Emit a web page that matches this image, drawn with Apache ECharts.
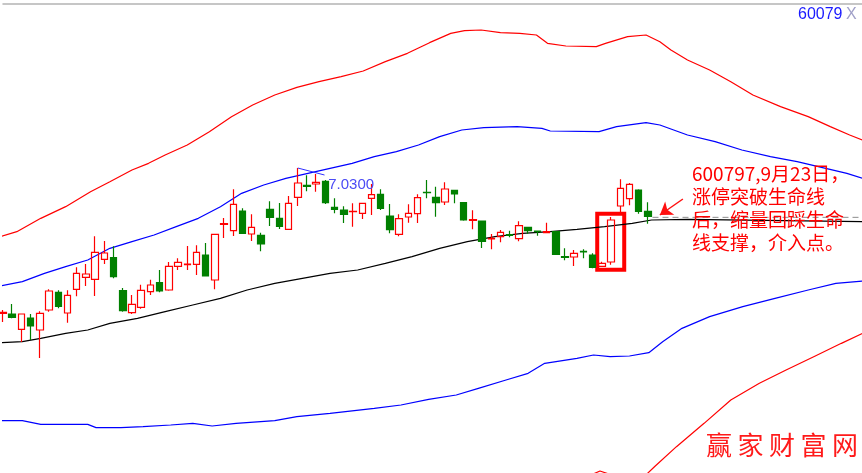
<!DOCTYPE html>
<html><head><meta charset="utf-8">
<script src="https://cdn.jsdelivr.net/npm/echarts@6/dist/echarts.min.js"></script>
<style>html,body{margin:0;padding:0;background:#fff}#c{width:862px;height:473px}</style>
</head><body><div id="c"></div>
<script>
// trading days (first 71 carry candles, the rest are the projected band area)
const categories = ['06-21','06-22','06-23','06-24','06-27','06-28','06-29','06-30','07-01','07-04','07-05','07-06','07-07','07-08','07-11','07-12','07-13','07-14','07-15','07-18','07-19','07-20','07-21','07-22','07-25','07-26','07-27','07-28','07-29','08-01','08-02','08-03','08-04','08-05','08-08','08-09','08-10','08-11','08-12','08-15','08-16','08-17','08-18','08-19','08-22','08-23','08-24','08-25','08-26','08-29','08-30','08-31','09-01','09-02','09-05','09-06','09-07','09-08','09-09','09-12','09-13','09-14','09-19','09-20','09-21','09-22','09-23','09-26','09-27','09-28','09-29','09-30','10-10','10-11','10-12','10-13','10-14','10-17','10-18','10-19','10-20','10-21','10-24','10-25','10-26','10-27','10-28','10-31','11-01','11-02','11-03','11-04','11-07','11-08','11-09'];

const opens  = [12.67,12.65,12.19,12.53,12.17,12.77,13.30,12.68,13.39,13.75,13.69,14.29,14.34,13.35,12.69,12.85,13.32,13.59,13.37,14.08,14.13,14.14,14.42,13.67,15.34,15.15,15.74,15.05,15.01,15.79,15.52,15.19,16.15,16.51,16.55,16.63,15.85,15.77,15.72,15.67,16.12,16.24,15.59,15.04,15.56,15.66,16.30,16.15,16.01,16.36,15.99,15.46,15.44,14.90,14.97,15.03,14.91,15.25,15.14,15.09,15.12,14.37,14.36,14.53,14.42,14.08,14.21,15.89,16.11,16.37,15.73];
const closes = [12.70,12.55,12.65,12.29,12.67,13.34,12.88,13.21,13.87,13.85,14.50,14.48,13.77,12.75,12.94,13.36,13.52,13.34,14.08,14.20,14.15,14.50,13.79,15.04,15.36,15.94,15.07,15.25,14.75,15.55,15.28,15.97,16.58,16.48,16.60,15.99,15.79,15.64,15.73,15.97,16.23,15.82,15.18,15.51,15.67,16.14,16.29,15.99,16.40,16.25,15.47,15.48,14.83,14.92,15.10,15.01,15.30,15.15,15.12,15.12,14.44,14.35,14.47,14.51,14.05,14.17,15.47,16.42,16.54,15.73,15.58];
const lows   = [12.41,12.52,11.81,11.87,11.33,12.72,12.82,12.39,13.18,13.49,13.19,14.15,13.72,12.72,12.65,12.81,13.22,13.30,13.35,13.97,13.97,13.82,13.78,13.39,14.93,14.99,15.06,14.84,14.53,15.29,15.20,15.18,15.89,16.33,16.32,15.95,15.67,15.38,15.27,15.50,15.62,15.77,15.07,14.98,15.39,15.38,16.12,15.57,15.92,15.97,15.45,15.19,14.63,14.59,14.80,14.95,14.83,15.06,15.00,15.07,14.42,14.26,14.09,14.32,14.02,14.07,14.13,15.70,15.91,15.66,15.36];
const highs  = [12.77,12.95,12.66,12.65,12.73,13.39,13.36,13.36,14.05,14.15,14.98,14.84,14.68,13.43,13.22,13.53,13.68,13.97,14.21,14.32,14.69,14.71,14.78,15.05,15.53,16.39,15.82,15.64,15.09,16.03,15.98,16.19,17.03,16.81,16.85,16.67,16.12,15.88,15.97,15.99,16.55,16.39,15.95,15.64,15.94,16.24,16.67,16.47,16.60,16.37,16.01,15.76,15.45,15.05,15.17,15.15,15.43,15.26,15.15,15.39,15.13,14.62,14.57,14.59,14.47,14.22,15.56,16.69,16.58,16.39,16.00];

// band lines: [day index, price]
const upperRed = [[-0.3,14.97],[1.5,15.12],[4.1,15.52],[6.8,15.87],[9.5,16.32],[11.6,16.62],[14.0,16.97],[15.8,17.17],[17.6,17.42],[20.0,17.72],[22.4,18.12],[24.8,18.57],[27.1,18.92],[29.5,19.22],[31.9,19.45],[34.3,19.62],[36.7,19.77],[39.1,19.94],[41.5,20.22],[43.9,20.47],[46.3,20.79],[48.6,21.07],[50.1,21.15],[51.9,21.17],[54.0,21.09],[56.1,21.07],[57.9,21.02],[59.1,20.77],[61.1,20.69],[64.4,20.67],[65.4,20.77],[67.8,20.97],[69.8,21.02],[71.3,20.82],[72.5,20.57],[74.3,20.27],[76.7,19.97],[79.0,19.62],[81.4,19.22],[84.4,18.87],[87.4,18.57],[89.8,18.27],[91.9,18.02],[93.3,17.87]];
const upperBlue = [[-0.3,13.49],[2.1,13.62],[4.5,13.87],[6.8,14.07],[9.2,14.27],[11.6,14.62],[14.0,14.82],[16.4,15.02],[18.8,15.27],[21.2,15.52],[23.6,15.87],[25.9,16.27],[28.3,16.52],[30.7,16.72],[33.1,16.87],[35.5,17.02],[37.9,17.17],[40.3,17.37],[42.7,17.52],[45.1,17.72],[47.4,17.97],[49.8,18.17],[52.2,18.24],[55.8,18.27],[58.5,18.22],[59.4,18.14],[64.7,18.12],[66.6,18.27],[69.8,18.39],[71.3,18.32],[74.3,18.02],[77.3,17.82],[80.2,17.57],[83.3,17.37],[86.2,17.22],[89.3,17.02],[91.6,16.87],[93.3,16.72]];
const middleLine = [[-0.3,11.79],[2.1,11.82],[4.1,11.92],[6.8,12.07],[9.2,12.17],[11.6,12.37],[14.6,12.52],[17.6,12.72],[20.6,12.92],[23.6,13.12],[26.5,13.37],[29.5,13.57],[32.5,13.72],[35.5,13.87],[38.5,13.97],[41.5,14.17],[44.4,14.37],[47.4,14.62],[50.4,14.82],[53.4,14.97],[56.4,15.07],[59.4,15.12],[62.3,15.19],[65.3,15.27],[68.3,15.37],[70.4,15.47],[74.3,15.49],[93.3,15.42]];
const lowerBlue = [[-0.3,9.45],[2.1,9.45],[4.1,9.34],[9.2,9.34],[10.1,9.24],[12.8,9.24],[15.2,9.27],[18.2,9.32],[20.6,9.37],[22.7,9.29],[25.3,9.37],[29.5,9.45],[31.9,9.57],[35.5,9.67],[40.3,9.82],[43.2,9.92],[46.2,10.09],[49.2,10.22],[51.6,10.42],[54.6,10.67],[57.0,10.87],[58.8,11.17],[62.3,11.32],[64.1,11.42],[65.9,11.37],[68.0,11.39],[70.1,11.49],[71.6,11.82],[73.7,12.22],[76.7,12.57],[80.3,12.87],[83.8,13.12],[87.4,13.37],[90.4,13.57],[93.3,13.64]];
const lowerRed = [[62.1,7.61],[64.8,7.94],[66.4,7.79],[69.2,7.67],[70.8,8.09],[73.1,8.67],[76.1,9.37],[79.0,10.07],[82.1,10.57],[85.0,10.97],[88.0,11.37],[91.0,11.77],[93.3,12.07]];
const lastPriceLine = [[70.5,15.55],[93.5,15.55]];

const stockCode = '600797';
const noteText = '600797,9月23日，\n涨停突破生命线\n后，缩量回踩生命\n线支撑，介入点。';
const maxLabel = '7.0300';
const watermark = '赢家财富网';

const candleData = opens.map((o, i) => [o, closes[i], lows[i], highs[i]]);

function band(data, color) {
  return { type: 'line', xAxisIndex: 1, yAxisIndex: 0, data: data, showSymbol: false, symbol: 'none',
    clip: false, silent: true, lineStyle: { color: color, width: 1.2 }, z: 1 };
}

const chart = echarts.init(document.getElementById('c'), null, { renderer: 'canvas' });
const wmGraphics = watermark.split('').map((ch, i) => ({
  type: 'text', left: 706 + i * 31.5, top: 432,
  style: { text: ch, fill: '#ff1a1a', font: '26px "Noto Sans CJK SC"' }, z: 100
}));

chart.setOption({
  animation: false,
  backgroundColor: '#ffffff',
  grid: { left: 3, right: -7, top: 0, bottom: 0, containLabel: false, outerBoundsMode: 'none' },
  xAxis: [
    { type: 'category', data: categories, boundaryGap: false, position: 'top', offset: -4,
      axisLine: { show: true, lineStyle: { color: '#b4b4b4', width: 1.5 } },
      axisTick: { show: false },
      axisLabel: { show: true, margin: 2, fontSize: 12, color: '#999', interval: (idx) => (idx - 2) % 6 === 0 },
      splitLine: { show: false } },
    { type: 'value', min: 0, max: categories.length - 1, show: false, splitLine: { show: false } }
  ],
  yAxis: [{ type: 'value', min: 7.88, max: 22.07, show: false, splitLine: { show: false } }],
  series: [
    band(upperRed, '#ff0000'),
    band(upperBlue, '#0000ff'),
    band(middleLine, '#000000'),
    band(lowerBlue, '#0000ff'),
    band(lowerRed, '#ff0000'),
    {
      type: 'line', xAxisIndex: 1, yAxisIndex: 0, data: lastPriceLine, showSymbol: false, symbol: 'none',
      clip: false, silent: true, lineStyle: { color: '#8c8c8c', width: 1, type: [6, 4] }, z: 1,
      markArea: {
        silent: true, label: { show: false },
        itemStyle: { color: 'rgba(0,0,0,0)', borderColor: '#ff0000', borderWidth: 4 },
        data: [[{ coord: [64.5, 15.66] }, { coord: [67.43, 13.98] }]]
      },
      markLine: {
        silent: true, label: { show: false }, animation: false,
        data: [
          [{ coord: [32, 17.03], symbol: 'none', lineStyle: { color: '#3030ff', width: 1, type: 'solid' } },
           { coord: [34.9, 16.82], symbol: 'none' }],
          [{ coord: [73.8, 16.10], symbol: 'none', lineStyle: { color: '#ff1010', width: 1.5, type: 'solid' } },
           { coord: [71.3, 15.62], symbol: 'arrow', symbolSize: 12 }]
        ]
      },
      markPoint: {
        silent: true,
        data: [{ coord: [35.3, 16.52], symbol: 'rect', symbolSize: 0.1, itemStyle: { color: 'rgba(0,0,0,0)' },
          label: { show: true, position: 'right', distance: 0, formatter: maxLabel, color: '#4b4bf5',
            fontSize: 15, fontFamily: 'Liberation Sans' } }]
      }
    },
    {
      type: 'candlestick', xAxisIndex: 0, yAxisIndex: 0, data: candleData, barWidth: 7, z: 3,
      itemStyle: { color: 'rgba(255,255,255,0)', color0: '#008000', borderColor: '#ff0000', borderColor0: '#008000', borderWidth: 1.2 }
    }
  ],
  graphic: [
    { type: 'text', left: 692, top: 162, z: 100,
      style: { text: noteText, fill: '#ff0000', font: '19px "Noto Sans CJK SC"', lineHeight: 23 } },
    { type: 'text', left: 798, top: 7, z: 100,
      style: { text: stockCode.slice(0, 5), fill: '#1a1aff', font: '16px "Liberation Sans"' } },
    { type: 'text', left: 846, top: 7, z: 100,
      style: { text: 'X', fill: '#a0a0c8', font: '16px "Liberation Sans"' } }
  ].concat(wmGraphics)
});
</script>
</body></html>
